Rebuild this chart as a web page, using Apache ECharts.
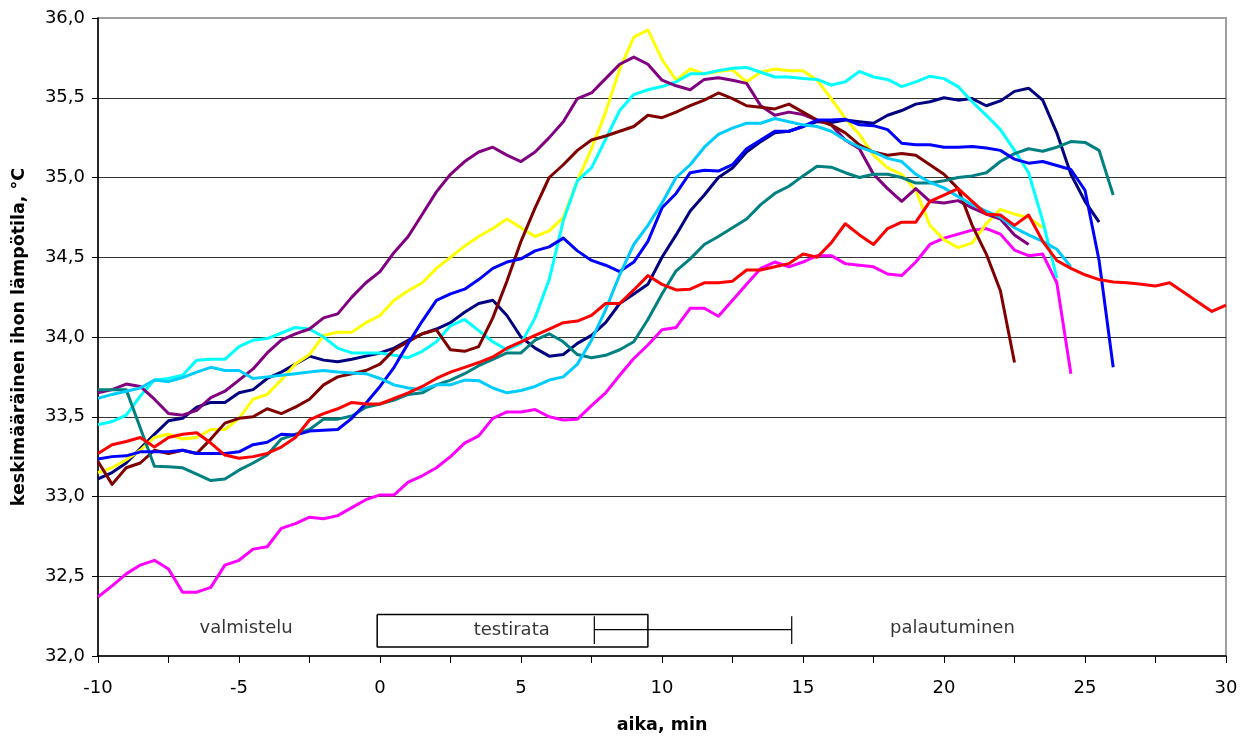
<!DOCTYPE html>
<html>
<head>
<meta charset="utf-8">
<script src="https://cdn.jsdelivr.net/npm/echarts@6/dist/echarts.min.js"></script>
<style>
  html, body { margin: 0; padding: 0; background: #fff; }
  #chart { width: 1247px; height: 739px; }
</style>
</head>
<body>
<div id="chart"></div>
<script>
// Time points (min), shared by every subject's curve
const minutes = [-10,-9.5,-9,-8.5,-8,-7.5,-7,-6.5,-6,-5.5,-5,-4.5,-4,-3.5,-3,-2.5,-2,-1.5,-1,-0.5,
  0,0.5,1,1.5,2,2.5,3,3.5,4,4.5,5,5.5,6,6.5,7,7.5,8,8.5,9,9.5,
  10,10.5,11,11.5,12,12.5,13,13.5,14,14.5,15,15.5,16,16.5,17,17.5,18,18.5,19,19.5,
  20,20.5,21,21.5,22,22.5,23,23.5,24,24.5,25,25.5,26,26.5,27,27.5,28,28.5,29,29.5,30];

// Mean skin temperature (°C) per subject, one value per time point from -10 min
const navy = [33.11,33.15,33.21,33.30,33.39,33.475,33.49,33.56,33.59,33.59,33.65,33.67,33.74,33.78,33.83,33.88,33.855,33.845,33.86,33.88,
  33.90,33.93,33.98,34.02,34.05,34.09,34.155,34.21,34.23,34.135,34.0,33.93,33.88,33.89,33.96,34.01,34.09,34.21,34.27,34.33,
  34.50,34.64,34.79,34.89,35.0,35.06,35.16,35.225,35.28,35.29,35.32,35.35,35.345,35.36,35.35,35.34,35.39,35.42,35.46,35.475,
  35.50,35.485,35.495,35.45,35.48,35.54,35.56,35.485,35.28,35.02,34.85,34.72];
const magenta = [32.37,32.44,32.515,32.57,32.60,32.546,32.40,32.40,32.43,32.57,32.60,32.67,32.685,32.80,32.83,32.87,32.86,32.88,32.93,32.98,
  33.01,33.01,33.09,33.13,33.18,33.25,33.335,33.38,33.49,33.53,33.53,33.545,33.50,33.48,33.485,33.57,33.65,33.76,33.865,33.95,
  34.045,34.06,34.18,34.18,34.13,34.23,34.33,34.43,34.47,34.44,34.47,34.51,34.51,34.46,34.45,34.44,34.395,34.385,34.47,34.58,
  34.62,34.645,34.67,34.68,34.645,34.545,34.51,34.52,34.34,33.77];
const yellow = [33.15,33.18,33.23,33.29,33.37,33.39,33.36,33.37,33.42,33.42,33.49,33.61,33.64,33.73,33.83,33.89,34.01,34.03,34.03,34.09,
  34.135,34.23,34.29,34.34,34.43,34.50,34.57,34.63,34.68,34.74,34.685,34.63,34.665,34.75,34.98,35.18,35.41,35.68,35.88,35.925,
  35.74,35.61,35.68,35.65,35.665,35.675,35.60,35.66,35.68,35.67,35.67,35.61,35.495,35.37,35.27,35.14,35.06,35.02,34.92,34.70,
  34.61,34.56,34.59,34.71,34.80,34.77,34.75,34.685];
const cyan = [33.45,33.47,33.51,33.63,33.73,33.74,33.76,33.855,33.86,33.86,33.94,33.98,33.99,34.025,34.06,34.05,34.0,33.93,33.90,33.90,
  33.90,33.885,33.87,33.91,33.97,34.07,34.11,34.04,33.97,33.92,33.96,34.12,34.36,34.73,34.98,35.06,35.24,35.42,35.52,35.55,
  35.57,35.60,35.65,35.65,35.67,35.685,35.69,35.66,35.63,35.63,35.62,35.615,35.58,35.60,35.665,35.63,35.615,35.57,35.60,35.635,
  35.62,35.57,35.475,35.39,35.30,35.17,35.03,34.73,34.37];
const purple = [33.65,33.67,33.705,33.69,33.61,33.52,33.51,33.54,33.62,33.66,33.73,33.80,33.90,33.98,34.02,34.05,34.12,34.145,34.25,34.34,
  34.41,34.53,34.63,34.77,34.91,35.02,35.10,35.16,35.19,35.14,35.10,35.16,35.25,35.35,35.495,35.53,35.62,35.71,35.755,35.71,
  35.61,35.575,35.55,35.615,35.625,35.61,35.59,35.45,35.39,35.41,35.395,35.36,35.33,35.235,35.18,35.02,34.93,34.85,34.93,34.85,
  34.84,34.855,34.81,34.77,34.74,34.64,34.58];
const darkRed = [33.22,33.076,33.18,33.21,33.29,33.27,33.29,33.27,33.36,33.46,33.49,33.50,33.55,33.52,33.56,33.61,33.70,33.75,33.77,33.79,
  33.83,33.92,33.97,34.02,34.045,33.92,33.91,33.94,34.12,34.35,34.60,34.81,35.0,35.08,35.17,35.235,35.26,35.29,35.32,35.39,
  35.375,35.41,35.45,35.485,35.53,35.495,35.45,35.44,35.43,35.46,35.41,35.36,35.33,35.28,35.205,35.16,35.14,35.15,35.14,35.08,
  35.02,34.93,34.70,34.52,34.29,33.84];
const teal = [33.67,33.67,33.67,33.43,33.19,33.186,33.18,33.14,33.10,33.11,33.165,33.21,33.26,33.36,33.39,33.42,33.485,33.485,33.505,33.56,
  33.58,33.605,33.64,33.65,33.70,33.73,33.77,33.82,33.86,33.90,33.90,33.98,34.02,33.97,33.89,33.87,33.885,33.92,33.97,34.11,
  34.27,34.415,34.49,34.58,34.63,34.685,34.74,34.83,34.90,34.945,35.01,35.07,35.065,35.03,35.0,35.02,35.02,35.0,34.965,34.965,
  34.98,35.0,35.01,35.03,35.10,35.15,35.18,35.165,35.19,35.225,35.22,35.17,34.89];
const blue = [33.235,33.25,33.255,33.28,33.28,33.28,33.29,33.27,33.27,33.27,33.28,33.325,33.34,33.39,33.385,33.41,33.415,33.42,33.49,33.585,
  33.69,33.81,33.96,34.10,34.23,34.27,34.30,34.36,34.43,34.47,34.49,34.54,34.565,34.62,34.54,34.48,34.45,34.41,34.47,34.60,
  34.81,34.90,35.03,35.045,35.04,35.08,35.18,35.235,35.29,35.29,35.32,35.36,35.36,35.365,35.33,35.325,35.30,35.215,35.205,35.205,
  35.19,35.19,35.195,35.185,35.17,35.115,35.09,35.10,35.075,35.05,34.92,34.48,33.81];
const skyBlue = [33.615,33.64,33.66,33.68,33.73,33.72,33.745,33.78,33.81,33.79,33.79,33.74,33.75,33.76,33.77,33.78,33.79,33.78,33.775,33.77,
  33.74,33.70,33.68,33.67,33.70,33.70,33.73,33.726,33.68,33.65,33.665,33.69,33.73,33.75,33.83,33.98,34.17,34.39,34.58,34.70,
  34.84,35.0,35.08,35.19,35.27,35.31,35.34,35.34,35.37,35.35,35.33,35.32,35.29,35.235,35.19,35.16,35.12,35.10,35.02,34.97,
  34.935,34.88,34.83,34.79,34.75,34.685,34.64,34.60,34.55,34.44];
const red = [33.27,33.325,33.345,33.37,33.31,33.37,33.39,33.40,33.335,33.26,33.24,33.25,33.27,33.31,33.37,33.48,33.52,33.55,33.59,33.58,
  33.58,33.615,33.65,33.69,33.74,33.78,33.81,33.84,33.875,33.93,33.97,34.01,34.05,34.09,34.10,34.135,34.21,34.21,34.295,34.385,
  34.33,34.295,34.30,34.34,34.34,34.35,34.42,34.42,34.44,34.46,34.52,34.50,34.59,34.71,34.64,34.58,34.68,34.72,34.72,34.85,
  34.89,34.93,34.85,34.77,34.765,34.70,34.765,34.60,34.48,34.43,34.39,34.36,34.345,34.34,34.33,34.32,34.34,34.28,34.22,34.16,34.20];

// Phase annotations along the bottom of the plot (minutes, °C)
const testBox = [[-0.1, 32.26], [9.5, 32.26], [9.5, 32.056], [-0.1, 32.056], [-0.1, 32.26]];
const rangeLine = [[7.6, 32.165], [14.6, 32.165]];
const rangeCapStart = [[7.6, 32.075], [7.6, 32.25]];
const rangeCapEnd = [[14.6, 32.075], [14.6, 32.25]];
const phaseLabels = [
  { name: 'valmistelu', value: [-4.75, 32.174] },
  { name: 'testirata', value: [4.67, 32.16] },
  { name: 'palautuminen', value: [20.3, 32.174] }
];

const yTicks = { min: 32, max: 36, step: 0.5 };
const xTicks = { min: -10, max: 30, step: 2.5, labelEvery: 5 };

const FONT = 'DejaVu Sans';

const curves = [
  ['navy', navy, '#000080'],
  ['magenta', magenta, '#FF00FF'],
  ['yellow', yellow, '#FFFF00'],
  ['cyan', cyan, '#00FFFF'],
  ['purple', purple, '#800080'],
  ['darkRed', darkRed, '#800000'],
  ['teal', teal, '#008080'],
  ['blue', blue, '#0000FF'],
  ['skyBlue', skyBlue, '#00CCFF'],
  ['red', red, '#FF0000']
];

const series = curves.map(([name, vals, color]) => ({
  name: name,
  type: 'line',
  data: vals.map((v, i) => [minutes[i], v]),
  showSymbol: false,
  symbol: 'none',
  lineStyle: { color: color, width: 3, join: 'round' },
  itemStyle: { color: color },
  z: 3
}));

function outline(name, pts, width) {
  return {
    name: name,
    type: 'line',
    data: pts,
    showSymbol: false,
    symbol: 'none',
    lineStyle: { color: '#000', width: width },
    z: 4
  };
}
series.push(outline('testBox', testBox, 1.5));
series.push(outline('rangeLine', rangeLine, 1.2));
series.push(outline('rangeCapStart', rangeCapStart, 1.2));
series.push(outline('rangeCapEnd', rangeCapEnd, 1.2));
series.push({
  name: 'phases',
  type: 'scatter',
  data: phaseLabels,
  symbolSize: 0,
  label: {
    show: true,
    position: 'inside',
    formatter: p => p.name,
    color: '#000',
    fontFamily: FONT,
    fontSize: 18
  },
  z: 5
});

const chart = echarts.init(document.getElementById('chart'), null, { renderer: 'canvas' });
chart.setOption({
  animation: false,
  backgroundColor: '#fff',
  grid: {
    left: 98, right: 21, top: 18, bottom: 78,
    show: true,
    borderColor: '#a0a0a0',
    borderWidth: 2,
    backgroundColor: '#fff'
  },
  xAxis: {
    type: 'value',
    min: xTicks.min, max: xTicks.max, interval: xTicks.step,
    name: 'aika, min',
    nameLocation: 'middle',
    nameGap: 60,
    nameTextStyle: { fontFamily: FONT, fontWeight: 'bold', fontSize: 17.5, color: '#000' },
    axisLine: { onZero: false, lineStyle: { color: '#000', width: 1.5 } },
    axisTick: { show: true, length: 7, lineStyle: { color: '#000', width: 1 } },
    axisLabel: {
      margin: 23,
      fontFamily: FONT, fontSize: 18, color: '#000',
      formatter: v => (v % xTicks.labelEvery === 0 ? String(v) : '')
    },
    splitLine: { show: false }
  },
  yAxis: {
    type: 'value',
    min: yTicks.min, max: yTicks.max, interval: yTicks.step,
    name: 'keskimääräinen ihon lämpötila, °C',
    nameLocation: 'middle',
    nameGap: 70,
    nameTextStyle: { fontFamily: FONT, fontWeight: 'bold', fontSize: 17.5, color: '#000' },
    axisLine: { show: true, onZero: false, lineStyle: { color: '#000', width: 1.5 } },
    axisTick: { show: true, length: 6, lineStyle: { color: '#000', width: 1 } },
    axisLabel: {
      margin: 13,
      fontFamily: FONT, fontSize: 18, color: '#000',
      formatter: v => v.toFixed(1).replace('.', ',')
    },
    splitLine: { show: true, showMaxLine: false, showMinLine: false, lineStyle: { color: '#333', width: 1 } }
  },
  series: series
});
</script>
</body>
</html>
